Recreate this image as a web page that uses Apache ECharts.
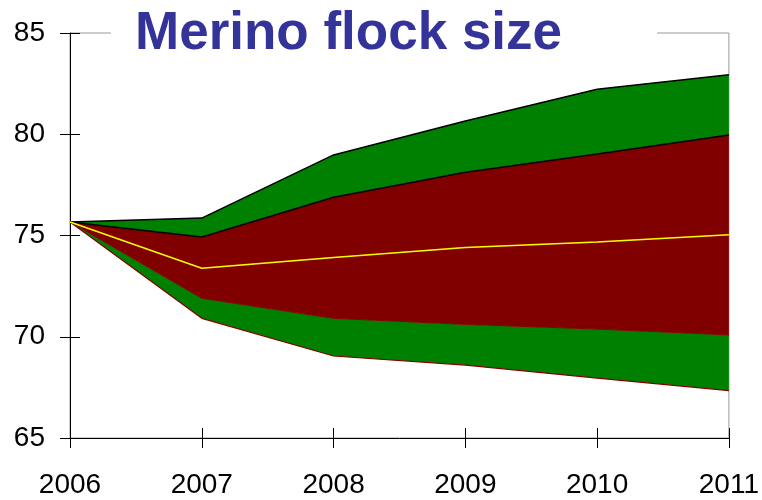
<!DOCTYPE html>
<html>
<head>
<meta charset="utf-8">
<style>
html,body{margin:0;padding:0;background:#fff;}
#chart{width:762px;height:500px;}
</style>
<script src="https://cdn.jsdelivr.net/npm/echarts@6/dist/echarts.min.js"></script>
</head>
<body>
<div id="chart"></div>
<script>
// Data
var years = ['2006', '2007', '2008', '2009', '2010', '2011'];
var outerUpper = [75.67, 75.86, 78.98, 80.65, 82.22, 82.94];
var innerUpper = [75.67, 74.93, 76.89, 78.12, 79.02, 79.96];
var median     = [75.67, 73.38, 73.91, 74.41, 74.68, 75.04];
var innerLower = [75.67, 71.90, 70.91, 70.61, 70.38, 70.09];
var outerLower = [75.67, 70.91, 69.05, 68.60, 67.96, 67.34];
var yTicks = [65, 70, 75, 80, 85];
var titleText = 'Merino flock size';

function diff(a, b) { return a.map(function (v, i) { return +(v - b[i]).toFixed(4); }); }

var FONT = '"Liberation Sans", Arial, sans-serif';
var GREEN = '#008000', RED = '#800000';

var chart = echarts.init(document.getElementById('chart'), null, {renderer: 'canvas'});

function areaSeries(name, data, color) {
  return {
    name: name, type: 'line', stack: 'fan', data: data, symbol: 'none', silent: true,
    lineStyle: {width: 0, opacity: 0},
    areaStyle: color ? {color: color, opacity: 1} : undefined,
    z: 2
  };
}
function edgeSeries(name, data, color, width) {
  return {
    name: name, type: 'line', data: data, symbol: 'none', silent: true,
    lineStyle: {color: color, width: width}, z: 3
  };
}

var option = {
  animation: false,
  backgroundColor: '#fff',
  title: {
    text: titleText,
    left: 111, top: 4,
    padding: [4, 95, 4, 24],
    backgroundColor: '#fff',
    textStyle: {fontFamily: FONT, fontWeight: 'bold', fontSize: 53, color: '#333399'}
  },
  grid: {
    left: 70, right: 31, top: 33, bottom: 62,
    show: true, borderColor: '#9a9a9a', borderWidth: 1, backgroundColor: 'transparent'
  },
  xAxis: [{
    type: 'category', data: years, boundaryGap: false,
    axisLine: {lineStyle: {color: '#000', width: 1}},
    axisTick: {show: true, inside: false, length: 10, lineStyle: {color: '#000'}},
    axisLabel: {fontFamily: FONT, fontSize: 28, color: '#000', margin: 33, interval: 0},
    splitLine: {show: false}
  }, {
    type: 'category', data: years, boundaryGap: false, position: 'bottom',
    axisLine: {show: false},
    axisTick: {show: true, inside: true, length: 10, lineStyle: {color: '#000'}},
    axisLabel: {show: false},
    splitLine: {show: false}
  }],
  yAxis: [{
    type: 'value', min: yTicks[0], max: yTicks[yTicks.length - 1], interval: 5,
    axisLine: {show: true, lineStyle: {color: '#000', width: 1}},
    axisTick: {show: true, inside: false, length: 10, lineStyle: {color: '#000'}},
    axisLabel: {fontFamily: FONT, fontSize: 28, color: '#000', margin: 25},
    splitLine: {show: false}
  }, {
    type: 'value', min: yTicks[0], max: yTicks[yTicks.length - 1], interval: 5, position: 'left',
    axisLine: {show: false},
    axisTick: {show: true, inside: true, length: 10, lineStyle: {color: '#000'}},
    axisLabel: {show: false},
    splitLine: {show: false}
  }],
  series: [
    areaSeries('base', outerLower, null),
    areaSeries('lowerOuterBand', diff(innerLower, outerLower), GREEN),
    areaSeries('innerBand', diff(innerUpper, innerLower), RED),
    areaSeries('upperOuterBand', diff(outerUpper, innerUpper), GREEN),
    edgeSeries('outerLowerEdge', outerLower, RED, 1.2),
    edgeSeries('innerLowerEdge', innerLower, RED, 1),
    edgeSeries('innerUpperEdge', innerUpper, '#000', 1.5),
    edgeSeries('outerUpperEdge', outerUpper, '#000', 1.5),
    edgeSeries('median', median, '#ffff00', 1.5)
  ]
};
chart.setOption(option);
</script>
</body>
</html>
